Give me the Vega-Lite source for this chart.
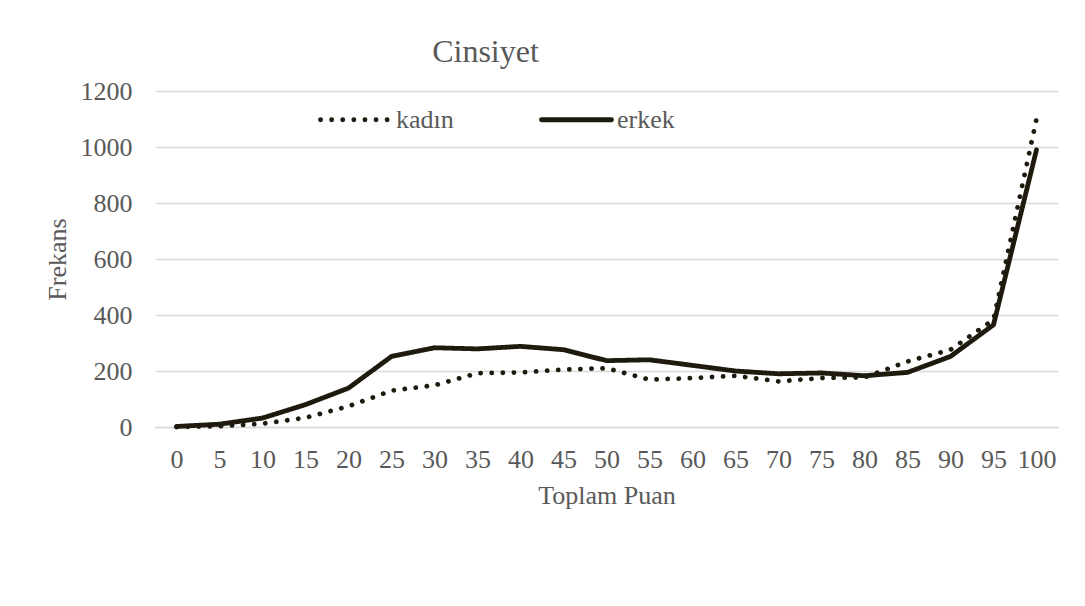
{
  "$schema": "https://vega.github.io/schema/vega-lite/v6.json",
  "autosize": {"type": "none"},
  "padding": {"left": 155, "top": 91, "right": 27, "bottom": 179},
  "width": 903,
  "height": 336,
  "background": "white",
  "config": {
    "font": "Liberation Serif",
    "view": {"stroke": null},
    "axis": {"labelFont": "Liberation Serif", "titleFont": "Liberation Serif", "labelColor": "#595959", "titleColor": "#595959", "labelFontSize": 26, "titleFontSize": 26, "titleFontWeight": "normal", "gridColor": "#d9d9d9", "gridWidth": 1.3, "ticks": false, "tickSize": 0},
    "legend": {"labelFont": "Liberation Serif", "labelColor": "#595959", "labelFontSize": 26}
  },
  "title": {"text": "Cinsiyet", "font": "Liberation Serif", "fontSize": 32, "fontWeight": "normal", "color": "#595959", "anchor": "middle", "dx": -121, "dy": 46, "baseline": "alphabetic", "offset": 30},
  "data": {"values": [
    {"puan": 0, "cinsiyet": "kadın", "frekans": 0},
    {"puan": 5, "cinsiyet": "kadın", "frekans": 3},
    {"puan": 10, "cinsiyet": "kadın", "frekans": 12},
    {"puan": 15, "cinsiyet": "kadın", "frekans": 33},
    {"puan": 20, "cinsiyet": "kadın", "frekans": 74},
    {"puan": 25, "cinsiyet": "kadın", "frekans": 130},
    {"puan": 30, "cinsiyet": "kadın", "frekans": 149},
    {"puan": 35, "cinsiyet": "kadın", "frekans": 192},
    {"puan": 40, "cinsiyet": "kadın", "frekans": 195},
    {"puan": 45, "cinsiyet": "kadın", "frekans": 205},
    {"puan": 50, "cinsiyet": "kadın", "frekans": 210},
    {"puan": 55, "cinsiyet": "kadın", "frekans": 169},
    {"puan": 60, "cinsiyet": "kadın", "frekans": 175},
    {"puan": 65, "cinsiyet": "kadın", "frekans": 183},
    {"puan": 70, "cinsiyet": "kadın", "frekans": 163},
    {"puan": 75, "cinsiyet": "kadın", "frekans": 175},
    {"puan": 80, "cinsiyet": "kadın", "frekans": 177},
    {"puan": 85, "cinsiyet": "kadın", "frekans": 234},
    {"puan": 90, "cinsiyet": "kadın", "frekans": 276},
    {"puan": 95, "cinsiyet": "kadın", "frekans": 383},
    {"puan": 100, "cinsiyet": "kadın", "frekans": 1100},
    {"puan": 0, "cinsiyet": "erkek", "frekans": 2},
    {"puan": 5, "cinsiyet": "erkek", "frekans": 10},
    {"puan": 10, "cinsiyet": "erkek", "frekans": 32},
    {"puan": 15, "cinsiyet": "erkek", "frekans": 80},
    {"puan": 20, "cinsiyet": "erkek", "frekans": 139},
    {"puan": 25, "cinsiyet": "erkek", "frekans": 252},
    {"puan": 30, "cinsiyet": "erkek", "frekans": 283},
    {"puan": 35, "cinsiyet": "erkek", "frekans": 279},
    {"puan": 40, "cinsiyet": "erkek", "frekans": 288},
    {"puan": 45, "cinsiyet": "erkek", "frekans": 276},
    {"puan": 50, "cinsiyet": "erkek", "frekans": 237},
    {"puan": 55, "cinsiyet": "erkek", "frekans": 240},
    {"puan": 60, "cinsiyet": "erkek", "frekans": 220},
    {"puan": 65, "cinsiyet": "erkek", "frekans": 200},
    {"puan": 70, "cinsiyet": "erkek", "frekans": 190},
    {"puan": 75, "cinsiyet": "erkek", "frekans": 193},
    {"puan": 80, "cinsiyet": "erkek", "frekans": 183},
    {"puan": 85, "cinsiyet": "erkek", "frekans": 195},
    {"puan": 90, "cinsiyet": "erkek", "frekans": 252},
    {"puan": 95, "cinsiyet": "erkek", "frekans": 365},
    {"puan": 100, "cinsiyet": "erkek", "frekans": 990}
  ]},
  "mark": {"type": "line", "strokeWidth": 4.8, "strokeCap": "round", "strokeJoin": "round"},
  "encoding": {
    "x": {"field": "puan", "type": "ordinal", "scale": {"padding": 0.5},
      "axis": {"title": "Toplam Puan", "labelAngle": 0, "labelBaseline": "alphabetic", "labelPadding": 40, "domainColor": "#d9d9d9", "domainWidth": 1.3, "grid": false, "titleBaseline": "alphabetic", "titleY": 76, "titleX": 451.5}},
    "y": {"field": "frekans", "type": "quantitative", "scale": {"domain": [0, 1200], "nice": false},
      "axis": {"title": "Frekans", "format": "d", "values": [0, 200, 400, 600, 800, 1000, 1200], "domain": false, "labelPadding": 23, "titleBaseline": "alphabetic", "titleX": -90, "titleY": 168, "titleAngle": -90}},
    "color": {"field": "cinsiyet", "type": "nominal", "sort": ["kadın", "erkek"], "scale": {"domain": ["kadın", "erkek"], "range": ["#1e1a0d", "#1e1a0d"]},
      "legend": {"title": null, "orient": "none", "legendX": 163, "legendY": -9, "direction": "horizontal", "columnPadding": 77, "symbolType": "stroke", "symbolSize": 4900, "symbolStrokeWidth": 4.8, "labelOffset": 3,
        "encode": {"symbols": {"update": {"strokeCap": {"value": "round"}}}}}},
    "strokeDash": {"field": "cinsiyet", "type": "nominal", "sort": ["kadın", "erkek"], "scale": {"domain": ["kadın", "erkek"], "range": [[0.1, 11], [1, 0]]},
      "legend": {"title": null, "orient": "none", "legendX": 163, "legendY": -9, "direction": "horizontal", "columnPadding": 77, "symbolType": "stroke", "symbolSize": 4900, "symbolStrokeWidth": 4.8, "labelOffset": 3,
        "encode": {"symbols": {"update": {"strokeCap": {"value": "round"}}}}}}
  }
}
